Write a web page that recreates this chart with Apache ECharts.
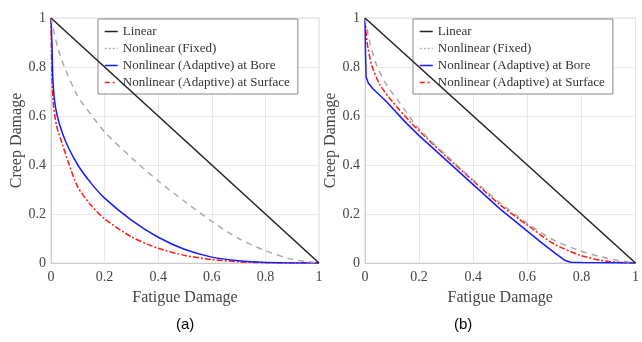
<!DOCTYPE html>
<html>
<head>
<meta charset="utf-8">
<script src="https://cdn.jsdelivr.net/npm/echarts@6/dist/echarts.min.js"></script>
<style>
  html, body { margin: 0; padding: 0; background: #fff; }
  #chart { width: 642px; height: 342px; }
</style>
</head>
<body>
<div id="chart"></div>
<script>
// series names and tick labels
const seriesNames = ['Linear', 'Nonlinear (Fixed)', 'Nonlinear (Adaptive) at Bore', 'Nonlinear (Adaptive) at Surface'];
const tickValues = [0, 0.2, 0.4, 0.6, 0.8, 1];
const captions = ['(a)', '(b)'];

// panel (a): [fatigue, creep]
const linearA = [[0, 1], [1, 0]];
const fixedA = [[0, 1], [0.025, 0.88], [0.05, 0.8], [0.1, 0.68], [0.15, 0.605], [0.2, 0.535], [0.3, 0.43],
  [0.4, 0.335], [0.5, 0.25], [0.6, 0.17], [0.7, 0.1], [0.8, 0.05], [0.9, 0.015], [1, 0]];
const boreA = [[0, 1], [0.004, 0.88], [0.007, 0.75], [0.016, 0.64], [0.032, 0.565], [0.057, 0.49], [0.1, 0.4],
  [0.15, 0.325], [0.2, 0.265], [0.3, 0.175], [0.4, 0.105], [0.5, 0.055], [0.6, 0.024], [0.7, 0.009],
  [0.8, 0.002], [0.9, 0], [1, 0]];
const surfaceA = [[0, 1], [0.002, 0.86], [0.004, 0.745], [0.01, 0.636], [0.022, 0.555], [0.041, 0.49],
  [0.065, 0.41], [0.1, 0.31], [0.15, 0.235], [0.2, 0.18], [0.3, 0.107], [0.4, 0.06], [0.5, 0.031],
  [0.6, 0.014], [0.7, 0.005], [0.8, 0.001], [0.9, 0], [1, 0]];

// panel (b)
const linearB = [[0, 1], [1, 0]];
const fixedB = [[0, 1], [0.018, 0.9], [0.042, 0.81], [0.078, 0.73], [0.127, 0.656], [0.18, 0.574],
  [0.228, 0.515], [0.3, 0.44], [0.4, 0.34], [0.5, 0.245], [0.6, 0.162], [0.7, 0.092], [0.8, 0.048],
  [0.9, 0.018], [0.97, 0.005], [1, 0]];
const boreB = [[0, 1], [0.002, 0.85], [0.004, 0.76], [0.012, 0.735], [0.03, 0.71], [0.078, 0.66],
  [0.15, 0.574], [0.2, 0.52], [0.3, 0.42], [0.4, 0.32], [0.5, 0.22], [0.6, 0.13], [0.65, 0.085],
  [0.7, 0.042], [0.74, 0.01], [0.76, 0.003], [0.8, 0.002], [0.9, 0.001], [1, 0]];
const surfaceB = [[0, 1], [0.008, 0.9], [0.024, 0.81], [0.054, 0.73], [0.1, 0.66], [0.169, 0.574],
  [0.228, 0.51], [0.3, 0.435], [0.4, 0.335], [0.5, 0.237], [0.6, 0.155], [0.7, 0.077], [0.8, 0.03],
  [0.9, 0.006], [1, 0]];

const serif = 'Liberation Serif';
const colors = ['#222222', '#aaaaaa', '#1a1aff', '#ff1a1a'];
const styles = [
  { type: 'solid', width: 1.5 },
  { type: [6, 5], width: 1.5 },
  { type: 'solid', width: 1.5 },
  { type: [6, 2, 2, 2], width: 1.5 }
];

const chart = echarts.init(document.getElementById('chart'), null, { renderer: 'canvas' });

const grids = [
  { left: 51, top: 18, width: 268, height: 245, show: true, borderColor: '#dddddd', borderWidth: 1 },
  { left: 365, top: 18, width: 276, height: 245, show: true, borderColor: '#dddddd', borderWidth: 1 }
];

function xAxis(i) {
  return {
    type: 'value', gridIndex: i, min: 0, max: 1, interval: 0.2,
    name: 'Fatigue Damage', nameLocation: 'middle', nameGap: 27,
    nameTextStyle: { fontFamily: serif, fontSize: 16, color: '#444' },
    axisLine: { show: true, lineStyle: { color: '#cccccc' } },
    axisTick: { show: false },
    splitLine: { show: true, lineStyle: { color: '#e8e8e8' } },
    axisLabel: { fontFamily: serif, fontSize: 14, color: '#444', margin: 7,
      formatter: v => String(+v.toFixed(1)) }
  };
}
function yAxis(i) {
  return {
    type: 'value', gridIndex: i, min: 0, max: 1, interval: 0.2,
    name: 'Creep Damage', nameLocation: 'middle', nameGap: 26,
    nameTextStyle: { fontFamily: serif, fontSize: 16, color: '#444' },
    axisLine: { show: true, lineStyle: { color: '#cccccc' } },
    axisTick: { show: false },
    splitLine: { show: true, lineStyle: { color: '#e8e8e8' } },
    axisLabel: { fontFamily: serif, fontSize: 14, color: '#444', margin: 5,
      formatter: v => String(+v.toFixed(1)) }
  };
}

const panelData = [
  [linearA, fixedA, boreA, surfaceA],
  [linearB, fixedB, boreB, surfaceB]
];

const series = [];
panelData.forEach((set, p) => {
  set.forEach((d, k) => {
    const sharp = k === 0 || (p === 1 && k === 2);
    series.push({
      name: seriesNames[k], type: 'line', xAxisIndex: p, yAxisIndex: p,
      data: d, showSymbol: false, symbol: 'none',
      smooth: sharp ? false : 0.25,
      color: colors[k],
      lineStyle: Object.assign({ color: colors[k] }, styles[k]),
      z: 4 - k
    });
  });
});

const legendItems = seriesNames.map((n, k) => ({
  name: n,
  itemStyle: { opacity: 0 },
  lineStyle: k === 1 ? { type: [2, 2], color: '#aaaaaa', width: 1.5 } :
    Object.assign({ color: colors[k] }, styles[k], k === 3 ? { type: [5, 3, 2, 3] } : {})
}));

function legend(left, width) {
  return {
    data: legendItems, orient: 'vertical', left: left, top: 19, width: width,
    backgroundColor: '#fff', borderColor: '#888', borderWidth: 1,
    padding: [6, 8, 5, 6], itemWidth: 13, itemHeight: 12, itemGap: 4,
    selectedMode: false,
    textStyle: { fontFamily: serif, fontSize: 13, color: '#333' }
  };
}

chart.setOption({
  animation: false,
  backgroundColor: '#fff',
  grid: grids,
  xAxis: [xAxis(0), xAxis(1)],
  yAxis: [yAxis(0), yAxis(1)],
  legend: [legend(98, 215), legend(413, 223)],
  series: series,
  graphic: [
    { type: 'text', left: 176, top: 317, style: { text: captions[0], font: '15px "Liberation Sans"', fill: '#000' } },
    { type: 'text', left: 454, top: 317, style: { text: captions[1], font: '15px "Liberation Sans"', fill: '#000' } }
  ]
});
</script>
</body>
</html>
